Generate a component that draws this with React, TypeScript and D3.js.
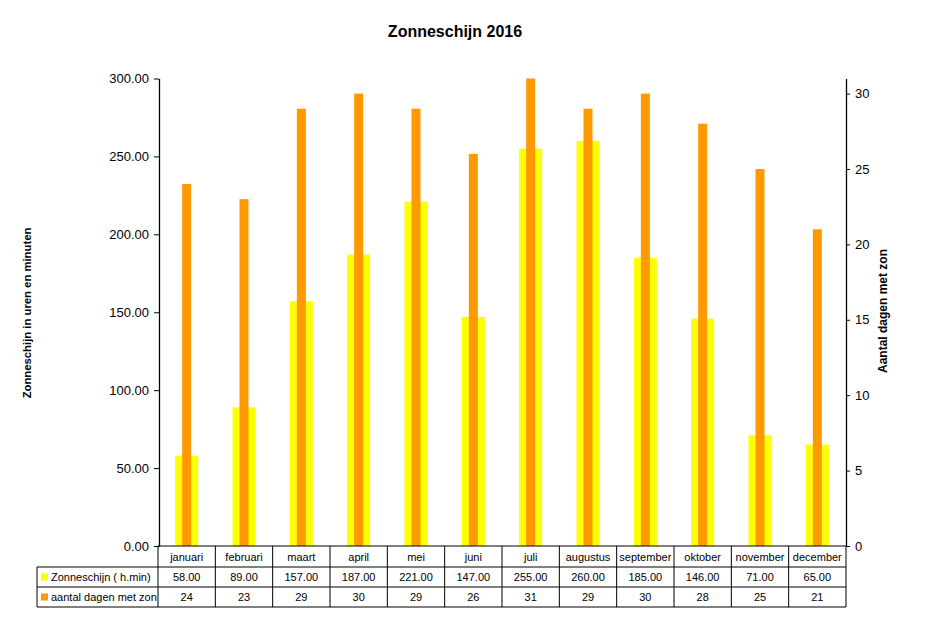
import { useRef, useEffect } from "react";
import * as d3 from "d3";

const months = ["januari", "februari", "maart", "april", "mei", "juni", "juli", "augustus", "september", "oktober", "november", "december"];
const sunHours = [58, 89, 157, 187, 221, 147, 255, 260, 185, 146, 71, 65];
const sunDays = [24, 23, 29, 30, 29, 26, 31, 29, 30, 28, 25, 21];
const leftTicks = [0, 50, 100, 150, 200, 250, 300];
const rightTicks = [0, 5, 10, 15, 20, 25, 30];

const W = 932;
const H = 623;
const FONT = "'Liberation Sans', Arial, sans-serif";
const YELLOW = "#FFFF00";
const ORANGE = "#FF9900";

export default function App() {
  const svgRef = useRef<SVGSVGElement>(null);

  useEffect(() => {
    const svg = d3.select(svgRef.current);
    if (!svg.node()) return;
    svg.selectAll("*").remove();

    const left = 158, right = 846, top = 78.5, bottom = 546;

    const x = d3.scaleBand().domain(months).range([left, right]);
    const yL = d3.scaleLinear().domain([0, 300]).range([bottom, top]);
    const yR = d3.scaleLinear().domain([0, 31]).range([bottom, top]);

    svg.append("rect").attr("width", W).attr("height", H).attr("fill", "#fff");

    // title
    svg.append("text")
      .attr("x", 455).attr("y", 37)
      .attr("text-anchor", "middle")
      .attr("font-family", FONT).attr("font-size", 16).attr("font-weight", "bold")
      .text("Zonneschijn 2016");

    // bars
    const yw = 23, ow = 9;
    svg.append("g").selectAll("rect")
      .data(months)
      .join("rect")
      .attr("x", (d) => x(d)! + x.bandwidth() / 2 - yw / 2)
      .attr("y", (d, i) => yL(sunHours[i]))
      .attr("width", yw)
      .attr("height", (d, i) => bottom - yL(sunHours[i]))
      .attr("fill", YELLOW);

    svg.append("g").selectAll("rect")
      .data(months)
      .join("rect")
      .attr("x", (d) => x(d)! + x.bandwidth() / 2 - ow / 2)
      .attr("y", (d, i) => yR(sunDays[i]))
      .attr("width", ow)
      .attr("height", (d, i) => bottom - yR(sunDays[i]))
      .attr("fill", ORANGE);

    // left axis
    const gl = svg.append("g")
      .attr("transform", `translate(${left + 1},0)`)
      .call(d3.axisLeft(yL).tickValues(leftTicks).tickSize(5).tickSizeOuter(0).tickFormat((d) => (d as number).toFixed(2)));
    gl.select(".domain").attr("stroke", "#000").attr("stroke-width", 1.3);
    gl.selectAll("text").attr("font-family", FONT).attr("font-size", 13).attr("fill", "#000").attr("dx", -2);

    // right axis
    const gr = svg.append("g")
      .attr("transform", `translate(${right},0)`)
      .call(d3.axisRight(yR).tickValues(rightTicks).tickSize(4).tickSizeOuter(0));
    gr.select(".domain").attr("stroke", "#000").attr("stroke-width", 1.3);
    gr.selectAll("text").attr("font-family", FONT).attr("font-size", 13).attr("fill", "#000").attr("dx", 2);

    // axis titles
    svg.append("text")
      .attr("transform", "translate(31,313) rotate(-90)")
      .attr("text-anchor", "middle")
      .attr("font-family", FONT).attr("font-size", 11.3).attr("font-weight", "bold")
      .text("Zonneschijn in uren en minuten");
    svg.append("text")
      .attr("transform", "translate(887,311) rotate(-90)")
      .attr("text-anchor", "middle")
      .attr("font-family", FONT).attr("font-size", 12).attr("font-weight", "bold")
      .text("Aantal dagen met zon");

    // data table
    const tbl = svg.append("g").attr("font-family", FONT).attr("font-size", 11);
    const r0 = bottom, r1 = 567, r2 = 587, r3 = 607;
    const tableLeft = 37;
    const line = (x1: number, y1: number, x2: number, y2: number) =>
      tbl.append("line").attr("x1", x1).attr("y1", y1).attr("x2", x2).attr("y2", y2)
        .attr("stroke", "#000").attr("stroke-width", 1);

    line(left, r0, right, r0);
    line(tableLeft, r1, right, r1);
    line(tableLeft, r2, right, r2);
    line(tableLeft, r3, right, r3);
    line(tableLeft, r1, tableLeft, r3);
    months.forEach((m) => line(x(m)!, r0, x(m)!, r3));
    line(right, r0, right, r3);

    const rowMid = (a: number, b: number) => (a + b) / 2 + 4;
    months.forEach((m, i) => {
      const cx = x(m)! + x.bandwidth() / 2;
      tbl.append("text").attr("x", cx).attr("y", rowMid(r0, r1)).attr("text-anchor", "middle").text(m);
      tbl.append("text").attr("x", cx).attr("y", rowMid(r1, r2)).attr("text-anchor", "middle").text(sunHours[i].toFixed(2));
      tbl.append("text").attr("x", cx).attr("y", rowMid(r2, r3)).attr("text-anchor", "middle").text(String(sunDays[i]));
    });

    const legend = [
      { label: "Zonneschijn ( h.min)", color: YELLOW, y0: r1, y1: r2 },
      { label: "aantal dagen met zon", color: ORANGE, y0: r2, y1: r3 },
    ];
    legend.forEach((l) => {
      const mid = (l.y0 + l.y1) / 2;
      tbl.append("rect").attr("x", 41).attr("y", mid - 3.5).attr("width", 7).attr("height", 7).attr("fill", l.color);
      tbl.append("text").attr("x", 51).attr("y", mid + 4).text(l.label);
    });
  }, []);

  return (
    <div style={{ position: "fixed", left: 0, top: 0 }}>
      <svg ref={svgRef} width={W} height={H} style={{ display: "block" }} />
    </div>
  );
}
